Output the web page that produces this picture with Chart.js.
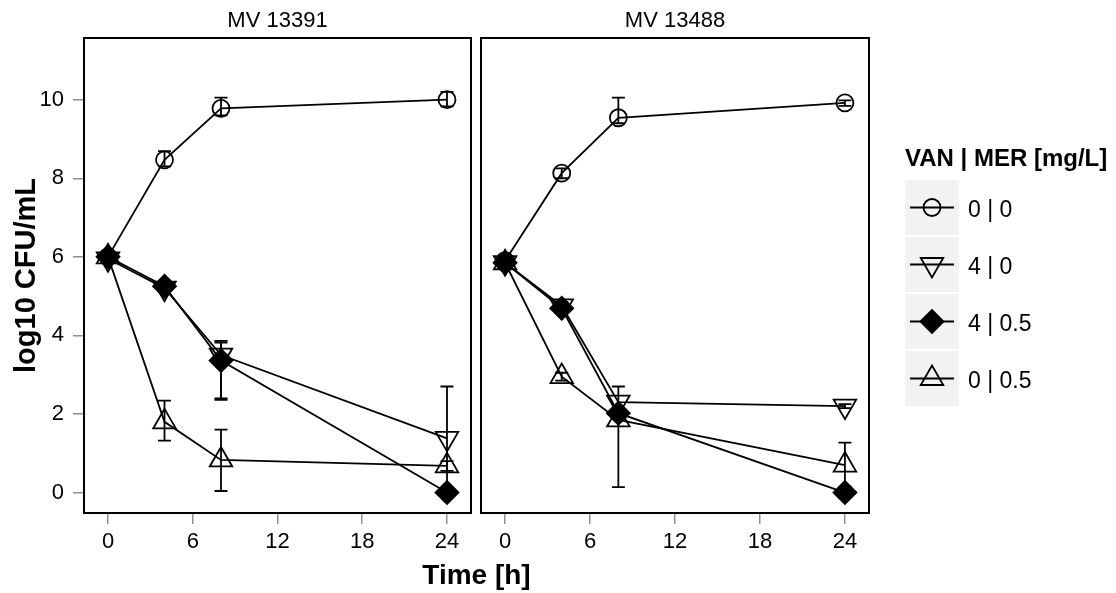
<!DOCTYPE html>
<html>
<head>
<meta charset="utf-8">
<script src="https://cdn.jsdelivr.net/npm/chart.js@4.4.1/dist/chart.umd.min.js"></script>
<style>
  html, body { margin:0; padding:0; background:#fff; }
  #wrap { position:relative; width:1116px; height:593px; font-family:"Liberation Sans", Arial, sans-serif; }
  canvas { position:absolute; top:0; }
  #chartA { left:0; }
  #chartB { left:476px; }
  #xtitle { position:absolute; left:0; width:953px; top:560px; line-height:30px; text-align:center; font-weight:bold; font-size:28px; color:#000; }
</style>
</head>
<body>
<div id="wrap">
  <canvas id="chartA" width="478" height="593"></canvas>
  <canvas id="chartB" width="640" height="593"></canvas>
  <div id="xtitle">Time [h]</div>
</div>
<script>
const times = [0, 4, 8, 24];
const xTicks = [0, 6, 12, 18, 24];
const yTicks = [0, 2, 4, 6, 8, 10];
const groupLabels = ['0 | 0', '4 | 0', '4 | 0.5', '0 | 0.5'];
const panelTitles = ['MV 13391', 'MV 13488'];
const legendTitle = 'VAN | MER [mg/L]';

// MV 13391 (mean, low, high)
const a_ctrl    = [6.0, 8.47, 9.78, 10.0];
const a_ctrl_lo = [6.0, 8.30, 9.60, 9.83];
const a_ctrl_hi = [6.0, 8.69, 10.05, 10.2];
const a_van     = [5.95, 5.2, 3.5, 1.38];
const a_van_lo  = [5.95, 5.1, 2.40, 0.05];
const a_van_hi  = [5.95, 5.3, 3.86, 2.70];
const a_comb    = [6.0, 5.25, 3.36, 0.0];
const a_comb_lo = [6.0, 5.15, 2.36, 0.0];
const a_comb_hi = [6.0, 5.35, 3.82, 0.0];
const a_mer     = [6.0, 1.80, 0.83, 0.68];
const a_mer_lo  = [6.0, 1.32, 0.04, 0.55];
const a_mer_hi  = [6.0, 2.34, 1.60, 0.80];

// MV 13488
const b_ctrl    = [5.9, 8.13, 9.54, 9.92];
const b_ctrl_lo = [5.9, 8.00, 9.40, 9.84];
const b_ctrl_hi = [5.9, 8.25, 10.05, 9.98];
const b_van     = [5.85, 4.75, 2.30, 2.20];
const b_van_lo  = [5.85, 4.65, 2.10, 2.15];
const b_van_hi  = [5.85, 4.85, 2.70, 2.25];
const b_comb    = [5.85, 4.69, 2.02, 0.0];
const b_comb_lo = [5.85, 4.60, 1.90, 0.0];
const b_comb_hi = [5.85, 4.80, 2.15, 0.0];
const b_mer     = [5.85, 2.95, 1.85, 0.70];
const b_mer_lo  = [5.85, 2.85, 0.14, 0.15];
const b_mer_hi  = [5.85, 3.05, 2.00, 1.27];

const FONT = '"Liberation Sans", Arial, sans-serif';
const LW = 1.8;
const markers = [
  { pointStyle: 'circle',   radius: 8.5,  rotation: 0,   fill: 'rgba(0,0,0,0)' },
  { pointStyle: 'triangle', radius: 13,   rotation: 180, fill: 'rgba(0,0,0,0)' },
  { pointStyle: 'rectRot',  radius: 11.5, rotation: 0,   fill: '#000' },
  { pointStyle: 'triangle', radius: 13,   rotation: 0,   fill: 'rgba(0,0,0,0)' }
];

function makeSets(groups) {
  return groups.map((g, k) => ({
    label: groupLabels[k],
    data: times.map((t, i) => ({ x: t, y: g[0][i] })),
    errLo: g[1], errHi: g[2],
    borderColor: '#000', borderWidth: LW,
    pointStyle: markers[k].pointStyle,
    pointRadius: markers[k].radius,
    pointRotation: markers[k].rotation,
    pointBackgroundColor: markers[k].fill,
    pointBorderColor: '#000',
    pointBorderWidth: LW,
    tension: 0, fill: false
  }));
}

const errorBars = {
  id: 'errorBars',
  afterDatasetsDraw(chart) {
    const { ctx, scales: { x, y } } = chart;
    ctx.save();
    ctx.strokeStyle = '#000';
    ctx.lineWidth = LW;
    chart.data.datasets.forEach(ds => {
      ds.data.forEach((p, i) => {
        const lo = ds.errLo[i], hi = ds.errHi[i];
        if (hi - lo < 0.01) return;
        const px = x.getPixelForValue(p.x);
        const y1 = y.getPixelForValue(lo), y2 = y.getPixelForValue(hi);
        ctx.beginPath();
        ctx.moveTo(px, y1); ctx.lineTo(px, y2);
        ctx.moveTo(px - 6.5, y1); ctx.lineTo(px + 6.5, y1);
        ctx.moveTo(px - 6.5, y2); ctx.lineTo(px + 6.5, y2);
        ctx.stroke();
      });
    });
    ctx.restore();
  }
};

const panelFrame = {
  id: 'panelFrame',
  afterDraw(chart, args, opts) {
    const { ctx, chartArea: a } = chart;
    ctx.save();
    ctx.strokeStyle = '#000';
    ctx.lineWidth = 2;
    ctx.strokeRect(a.left, a.top, a.right - a.left, a.bottom - a.top);
    ctx.fillStyle = '#000';
    ctx.font = '22px ' + FONT;
    ctx.textAlign = 'center';
    ctx.textBaseline = 'middle';
    ctx.fillText(opts.title, (a.left + a.right) / 2, 21);
    ctx.restore();
  }
};

const groupLegend = {
  id: 'groupLegend',
  afterDraw(chart, args, opts) {
    if (!opts.show) return;
    const ctx = chart.ctx;
    const x0 = opts.x;
    ctx.save();
    ctx.fillStyle = '#000';
    ctx.font = 'bold 24px ' + FONT;
    ctx.textAlign = 'left';
    ctx.textBaseline = 'alphabetic';
    ctx.fillText(legendTitle, x0, 166);
    const rowTops = [180, 237, 294, 351];
    chart.data.datasets.forEach((ds, k) => {
      const top = rowTops[k];
      const cy = top + 27.5;
      ctx.fillStyle = '#f2f2f2';
      ctx.fillRect(x0, top, 54, 55);
      ctx.strokeStyle = '#000';
      ctx.lineWidth = LW;
      ctx.beginPath();
      ctx.moveTo(x0 + 5, cy); ctx.lineTo(x0 + 49, cy);
      ctx.stroke();
      ctx.fillStyle = markers[k].fill;
      Chart.helpers.drawPoint(ctx, {
        pointStyle: markers[k].pointStyle,
        radius: markers[k].radius,
        rotation: markers[k].rotation,
        borderWidth: LW
      }, x0 + 27, cy);
      ctx.fillStyle = '#000';
      ctx.font = '23px ' + FONT;
      ctx.textBaseline = 'middle';
      ctx.fillText(groupLabels[k], x0 + 63, cy + 3);
    });
    ctx.restore();
  }
};

function scaleX() {
  return {
    type: 'linear', min: -1.7, max: 25.7,
    afterBuildTicks: s => { s.ticks = xTicks.map(v => ({ value: v })); },
    afterFit: s => { s.height = 80; s.paddingLeft = 0; s.paddingRight = 0; },
    grid: { drawOnChartArea: false, drawTicks: true, tickLength: 11, color: '#8f8f8f', lineWidth: 1.5 },
    border: { display: false },
    ticks: { color: '#000', font: { size: 22, family: FONT }, padding: 5, maxRotation: 0, autoSkip: false }
  };
}

function scaleY(show) {
  return {
    type: 'linear', min: -0.52, max: 11.57, display: show,
    afterBuildTicks: s => { s.ticks = yTicks.map(v => ({ value: v })); },
    afterFit: s => { if (show) s.width = 84; s.paddingTop = 0; s.paddingBottom = 0; },
    grid: { drawOnChartArea: false, drawTicks: true, tickLength: 11, color: '#8f8f8f', lineWidth: 1.5 },
    border: { display: false },
    ticks: { color: '#000', font: { size: 22, family: FONT }, padding: 9, autoSkip: false },
    title: { display: show, text: 'log10 CFU/mL', color: '#000', font: { size: 29, weight: 'bold', family: FONT }, padding: { top: 10, bottom: 0 } }
  };
}

function makeChart(id, groups, title, pad, showY, showLegend) {
  return new Chart(document.getElementById(id), {
    type: 'line',
    data: { datasets: makeSets(groups) },
    options: {
      responsive: false, animation: false, devicePixelRatio: 1,
      layout: { padding: pad, autoPadding: false },
      scales: { x: scaleX(), y: scaleY(showY) },
      plugins: {
        legend: { display: false },
        tooltip: { enabled: false },
        panelFrame: { title: title },
        groupLegend: { show: showLegend, x: 429 }
      }
    },
    plugins: [errorBars, panelFrame, groupLegend]
  });
}

makeChart('chartA', [
  [a_ctrl, a_ctrl_lo, a_ctrl_hi],
  [a_van, a_van_lo, a_van_hi],
  [a_comb, a_comb_lo, a_comb_hi],
  [a_mer, a_mer_lo, a_mer_hi]
], panelTitles[0], { top: 38, left: 0, right: 7, bottom: 0 }, true, false);

makeChart('chartB', [
  [b_ctrl, b_ctrl_lo, b_ctrl_hi],
  [b_van, b_van_lo, b_van_hi],
  [b_comb, b_comb_lo, b_comb_hi],
  [b_mer, b_mer_lo, b_mer_hi]
], panelTitles[1], { top: 38, left: 5, right: 247, bottom: 0 }, false, true);
</script>
</body>
</html>
